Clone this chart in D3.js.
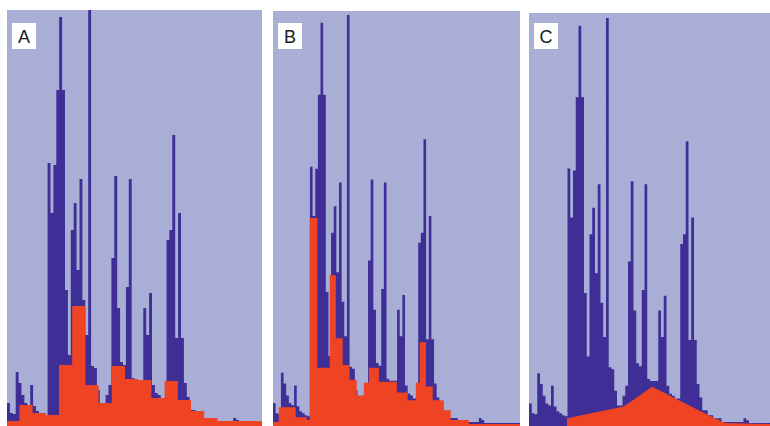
<!DOCTYPE html>
<html>
<head>
<meta charset="utf-8">
<script src="https://cdn.jsdelivr.net/npm/d3@7/dist/d3.min.js"></script>
<style>
  html, body { margin: 0; padding: 0; background: #ffffff; }
  svg { display: block; }
</style>
</head>
<body>
<svg id="chart" width="770" height="426"></svg>
<script>
// ---------------- DATA ----------------
const panelLabels = ["A", "B", "C"];

// Blue histogram (shared by all three panels): one value per bin
const blueValues = [
  23, 13, 12, 54, 43, 31, 23, 21, 41, 20,
  15, 13, 11, 10, 263, 213, 261, 336, 409, 336,
  136, 71, 196, 223, 156, 247, 126, 91, 417, 60,
  58, 36, 21, 21, 31, 41, 168, 250, 118, 64,
  61, 139, 247, 48, 46, 46, 46, 118, 91, 133,
  41, 33, 31, 28, 28, 186, 196, 291, 88, 213,
  88, 43, 29, 16, 16, 11, 11, 8, 8, 8,
  4, 4, 4, 4, 4, 4, 4, 4, 8, 6,
  3, 3, 3, 3, 3, 3, 3, 3, 3, 3,
  3, 3, 3, 3
];

// Panel A red histogram: coarse bins (edges in blue-bin units)
const redAEdges = [-0.28, 4.27, 8.82, 13.38, 17.93, 22.48, 27.03, 31.59, 36.14, 40.69,
  45.24, 49.79, 54.35, 58.90, 63.45, 68.00, 72.56, 77.11, 81.66, 86.21, 90.76];
const redAValues = [5, 21, 13, 11, 61, 120, 41, 23, 60, 47, 46, 28, 45, 26, 15, 8, 5, 5, 5, 5];

// Panel B red histogram (edges in blue-bin units)
const redBEdges = [0, 2.2, 8.6, 12.8, 13.9, 16.8, 21.5, 23.8, 26.4, 29, 31.7, 34.4, 36.3,
  40.1, 46.9, 51, 54.1, 55.6, 57.9, 60.5, 64.7, 67.3, 74.2, 94];
const redBValues = [4, 19, 9, 6, 211, 59, 153, 89, 62, 47, 31, 44, 59, 45, 34, 26, 44, 85, 40, 26, 16, 6, 2];

// Panel C red profile (points: position in blue-bin units, value)
const redCPos = [13.8, 13.8, 34.5, 44.8, 65.3, 71.4, 88];
const redCValues = [0, 8, 20, 40, 11, 3, 2];

// Per-panel visible extent (blue-bin units) and vertical maximum
const panelBinExtent = [87.93, 93.56, 87.64];
const panelMaxValue = [416, 421, 422];

// ---------------- LAYOUT ----------------
const W = 770, H = 426;
const panels = [
  { left: 7,   right: 262, top: 10 },
  { left: 273, right: 520, top: 11 },
  { left: 529, right: 770, top: 13 }
];
const bottom = 426;
const COL_BG = "#a9aed7";
const COL_BLUE = "#3e2e96";
const COL_RED = "#ef4424";

const svg = d3.select("#chart");
svg.append("rect").attr("width", W).attr("height", H).attr("fill", "#ffffff");

const defs = svg.append("defs");

// Build blue step points
const bluePts = blueValues.map((v, i) => ({ x: i, v }));
bluePts.push({ x: blueValues.length, v: blueValues[blueValues.length - 1] });

function stepPts(edges, values) {
  const pts = values.map((v, i) => ({ x: edges[i], v }));
  pts.push({ x: edges[edges.length - 1], v: values[values.length - 1] });
  return pts;
}

const redSeries = [
  { pts: stepPts(redAEdges, redAValues), curve: d3.curveStepAfter },
  { pts: stepPts(redBEdges, redBValues), curve: d3.curveStepAfter },
  { pts: redCPos.map((p, i) => ({ x: p, v: redCValues[i] })), curve: d3.curveLinear }
];

panels.forEach((p, k) => {
  const x = d3.scaleLinear().domain([0, panelBinExtent[k]]).range([p.left, p.right]);
  const y = d3.scaleLinear().domain([0, panelMaxValue[k]]).range([bottom, p.top]);

  const clipId = "clip" + k;
  defs.append("clipPath").attr("id", clipId)
    .append("rect").attr("x", p.left).attr("y", p.top)
    .attr("width", p.right - p.left).attr("height", bottom - p.top);

  const g = svg.append("g").attr("clip-path", `url(#${clipId})`);

  g.append("rect")
    .attr("x", p.left).attr("y", p.top)
    .attr("width", p.right - p.left).attr("height", bottom - p.top)
    .attr("fill", COL_BG);

  const area = d3.area()
    .x(d => x(d.x))
    .y0(y(0) + 2)
    .y1(d => y(d.v));

  g.append("path")
    .datum(bluePts)
    .attr("d", area.curve(d3.curveStepAfter))
    .attr("fill", COL_BLUE);

  g.append("path")
    .datum(redSeries[k].pts)
    .attr("d", area.curve(redSeries[k].curve))
    .attr("fill", COL_RED);

  // label box
  const lx = p.left + 5, ly = 23;
  svg.append("rect")
    .attr("x", lx).attr("y", ly)
    .attr("width", 24).attr("height", 26)
    .attr("fill", "#ffffff");
  svg.append("text")
    .attr("x", lx + 12).attr("y", ly + 20)
    .attr("text-anchor", "middle")
    .attr("font-family", "Liberation Sans, Arial, sans-serif")
    .attr("font-size", 18)
    .attr("fill", "#1a1a1a")
    .text(panelLabels[k]);
});
</script>
</body>
</html>
